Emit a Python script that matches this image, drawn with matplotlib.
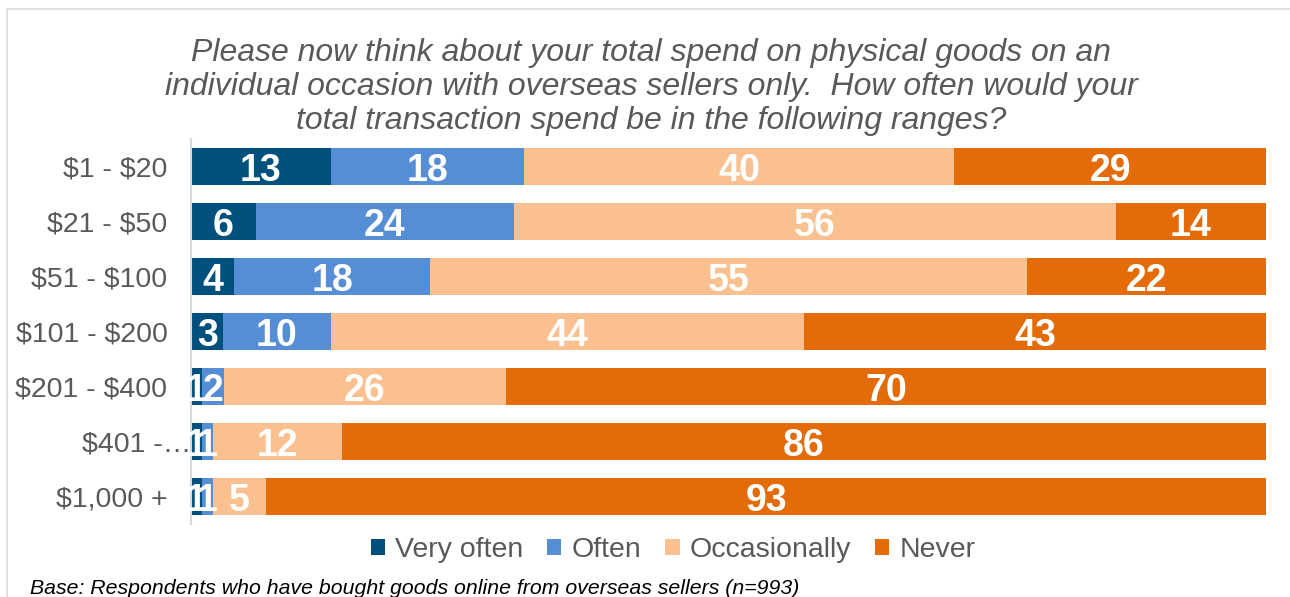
import numpy as np
import matplotlib
matplotlib.use("Agg")
import matplotlib.pyplot as plt
from matplotlib.patches import Rectangle
from matplotlib.transforms import ScaledTranslation

plt.rcParams['font.family'] = ['Liberation Sans', 'DejaVu Sans']

ranges = ["\\$1 - \\$20", "\\$21 - \\$50", "\\$51 - \\$100", "\\$101 - \\$200",
          "\\$201 - \\$400", "\\$401 -…", "\\$1,000 +"]
series = ["Very often", "Often", "Occasionally", "Never"]
very_often = [13, 6, 4, 3, 1, 1, 1]
often = [18, 24, 18, 10, 2, 1, 1]
occasionally = [40, 56, 55, 44, 26, 12, 5]
never = [29, 14, 22, 43, 70, 86, 93]
colours = ["#00507E", "#558ED5", "#FAC090", "#E36C09"]

title = ("Please now think about your total spend on physical goods on an\n"
         "individual occasion with overseas sellers only.  How often would your\n"
         "total transaction spend be in the following ranges?")
base_note = "Base: Respondents who have bought goods online from overseas sellers (n=993)"

vals = np.array([very_often, often, occasionally, never], dtype=float)
totals = vals.sum(axis=0)
shares = vals / totals * 100  # 100% stacked, like the spreadsheet does

fig = plt.figure(figsize=(12.9, 5.97), dpi=100)
ax = fig.add_axes([191 / 1290, 1 - 524 / 597, 1075 / 1290, 385 / 597])

# light frame round the whole chart
fig.patches.append(Rectangle((7 / 1290, -0.1), 1.2, 1 - 9 / 597 + 0.1,
                             transform=fig.transFigure, fill=False,
                             edgecolor="#D9D9D9", linewidth=1.2))

y = np.arange(len(ranges))
left = np.zeros(len(ranges))
for i, name in enumerate(series):
    ax.barh(y, shares[i], left=left, height=0.68, color=colours[i],
            label=name, linewidth=0)
    for j in range(len(ranges)):
        ax.annotate("%d" % vals[i][j], (left[j] + shares[i][j] / 2, y[j]),
                    xytext=(0, -3), textcoords="offset points",
                    ha="center", va="center", color="white",
                    fontsize=27, fontweight="bold")
    left += shares[i]

ax.set_xlim(0, 100)
ax.set_ylim(len(ranges) - 0.5, -0.5)
ax.set_yticks(y)
ax.set_yticklabels(ranges, fontsize=20.5, color="#595959")
ax.tick_params(axis="y", length=0, pad=17)
# the cut-off label hangs its ellipsis out towards the axis
lab = ax.get_yticklabels()[5]
lab.set_transform(lab.get_transform() + ScaledTranslation(24 / 100, 0, fig.dpi_scale_trans))
ax.set_xticks([])
for s in ["top", "right", "bottom"]:
    ax.spines[s].set_visible(False)
ax.spines["left"].set_color("#D9D9D9")
ax.spines["left"].set_linewidth(1.5)

fig.text(651 / 1290, 1 - 87 / 597, title, ha="center", va="center",
         fontsize=23, style="italic", color="#595959", linespacing=1.16)

handles, labels = ax.get_legend_handles_labels()
fig.legend(handles, labels, loc="center", bbox_to_anchor=(673 / 1290, 1 - 550 / 597),
           ncol=4, frameon=False, fontsize=20.5, labelcolor="#595959",
           handlelength=0.5, handleheight=0.5, handletextpad=0.35,
           columnspacing=0.85)

fig.text(30 / 1290, 1 - 588 / 597, base_note, ha="left", va="center",
         fontsize=15.3, style="italic", color="black")

fig.savefig("out.png", dpi=100)
